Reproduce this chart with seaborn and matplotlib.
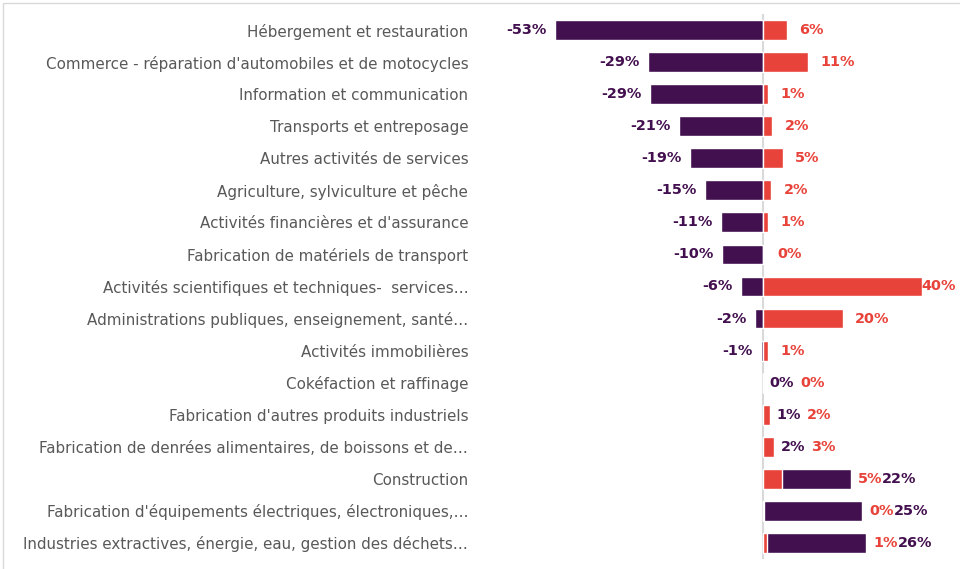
import matplotlib
matplotlib.use("Agg")
import matplotlib.pyplot as plt
import pandas as pd
import seaborn as sns

SECTORS = [
    "Hébergement et restauration",
    "Commerce - réparation d'automobiles et de motocycles",
    "Information et communication",
    "Transports et entreposage",
    "Autres activités de services",
    "Agriculture, sylviculture et pêche",
    "Activités financières et d'assurance",
    "Fabrication de matériels de transport",
    "Activités scientifiques et techniques-  services…",
    "Administrations publiques, enseignement, santé…",
    "Activités immobilières",
    "Cokéfaction et raffinage",
    "Fabrication d'autres produits industriels",
    "Fabrication de denrées alimentaires, de boissons et de…",
    "Construction",
    "Fabrication d'équipements électriques, électroniques,…",
    "Industries extractives, énergie, eau, gestion des déchets…",
]
# purple series (evolution, %) and red series (%)
PURPLE_VALUES = [-53, -29.3, -28.8, -21.4, -18.6, -14.8, -10.6, -10.4, -5.6, -2.0,
                 -0.6, 0, 1.0, 2.0, 22.4, 25.4, 26.4]
RED_VALUES = [6.1, 11.4, 1.3, 2.4, 5.1, 2.1, 1.3, 0.4, 40.5, 20.4,
              1.3, 0, 1.8, 2.8, 4.8, 0.3, 1.0]

PURPLE = "#43104F"
RED = "#E8433A"
TEXT_GREY = "#595959"

df = pd.DataFrame({"sector": SECTORS, "purple": PURPLE_VALUES, "red": RED_VALUES})

sns.set_theme(style="white")
plt.rcParams["font.family"] = ["DejaVu Sans"]

fig = plt.figure(figsize=(9.6, 5.69), dpi=100)
ax = fig.add_axes([478 / 960, 1 - 559 / 569, 1 - 478 / 960, 545 / 569])

sns.barplot(data=df, x="purple", y="sector", orient="h", color=PURPLE, width=0.62,
            saturation=1, ax=ax)
sns.barplot(data=df, x="red", y="sector", orient="h", color=RED, width=0.62,
            saturation=1, ax=ax)

ax.set_xlim(-72.7, 50.3)
ax.set_ylim(len(SECTORS) - 0.5, -0.5)
ax.axvline(0, color="#D9D9D9", lw=1.5, zorder=0)
ax.set_xticks([])
ax.set_xlabel("")
ax.set_ylabel("")
for side in ax.spines.values():
    side.set_visible(False)
ax.tick_params(axis="y", length=0, pad=7, labelsize=10.9, labelcolor=TEXT_GREY)


def pct(v):
    return f"{round(v):.0f}%"


lab_kw = dict(va="center", fontsize=10.4, fontweight="bold", textcoords="offset points",
              annotation_clip=False)
labels = []
for i, (p, r) in enumerate(zip(PURPLE_VALUES, RED_VALUES)):
    if p < 0:
        labels.append(ax.annotate(pct(p), xy=(p, i), xytext=(-6, 0), ha="right",
                                  color=PURPLE, **lab_kw))
        labels.append(ax.annotate(pct(r), xy=(r, i), xytext=(9, 0), ha="left",
                                  color=RED, **lab_kw))
    else:
        # both labels sit after the longest bar, smaller value first
        anchor = max(p, r)
        order = [(p, PURPLE), (r, RED)] if p <= r else [(r, RED), (p, PURPLE)]
        first = ax.annotate(pct(order[0][0]), xy=(anchor, i), xytext=(5, 0), ha="left",
                            color=order[0][1], **lab_kw)
        gap = 4 if p <= r else 0
        second = ax.annotate(pct(order[1][0]), xy=(1, 0.5), xycoords=first, xytext=(gap, 0),
                             ha="left", color=order[1][1], **lab_kw)
        labels += [first, second]

# keep labels inside the figure on the right
fig.canvas.draw()
renderer = fig.canvas.get_renderer()
for t in labels:
    bb = t.get_window_extent(renderer)
    if bb.x1 > fig.bbox.width - 4:
        off = t.xyann
        t.xyann = (off[0] - (bb.x1 - fig.bbox.width + 4) * 72 / fig.dpi, off[1])

# light frame around the chart area
fig.patches.append(plt.Rectangle((3 / 960, -0.1), 1.2, 1 - 3 / 569 + 0.1,
                                 transform=fig.transFigure, fill=False,
                                 edgecolor="#D9D9D9", lw=1))

fig.savefig("out.png", dpi=100)
